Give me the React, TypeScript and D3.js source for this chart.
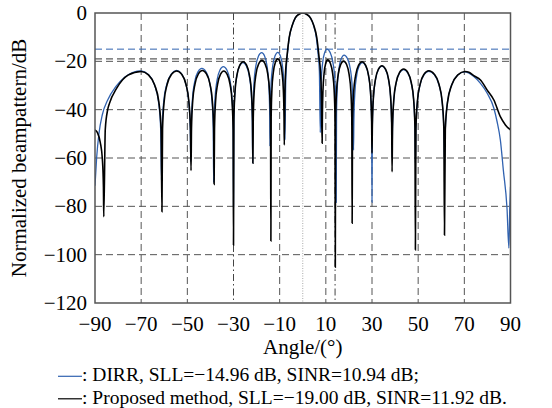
import React from 'react'
import * as d3 from 'd3'

// beampattern: [angle (deg), level (dB)]
const dirrPoints: [number, number][] = [
    [-90, -71.5], [-89.3, -60], [-88.3, -50], [-86.8, -42], [-84.5, -36], [-81, -30.5], [-77, -26.5], [-73.5, -24.6], [-70, -24.0],
    [-66.92, -25.4], [-64.28, -29.6], [-62.52, -36.6], [-61.55, -48.0], [-61.2, -69.1],
    [-60.94, -47.8], [-60.21, -36.4], [-58.89, -29.4], [-56.91, -25.2], [-54.6, -23.8], [-52.47, -25.2], [-50.64, -29.4], [-49.42, -36.4], [-48.74, -47.8], [-48.5, -61.5],
    [-48.31, -46.9], [-47.78, -35.5], [-46.82, -28.5], [-45.38, -24.3], [-43.7, -22.9], [-41.92, -24.3], [-40.39, -28.5], [-39.37, -35.5], [-38.8, -46.9], [-38.6, -70.0],
    [-38.43, -46.2], [-37.97, -34.8], [-37.13, -27.8], [-35.87, -23.6], [-34.4, -22.2], [-32.86, -23.6], [-31.54, -27.8], [-30.66, -34.8], [-30.18, -46.2], [-30.0, -80.1],
    [-29.84, -44.5], [-29.39, -33.1], [-28.57, -26.1], [-27.34, -21.9], [-25.9, -20.5], [-24.43, -21.9], [-23.17, -26.1], [-22.33, -33.1], [-21.87, -44.5], [-21.7, -62.0],
    [-21.54, -40.4], [-21.12, -29.0], [-20.34, -22.0], [-19.17, -17.8], [-17.8, -16.4], [-16.54, -17.8], [-15.46, -22.0], [-14.74, -29.0], [-14.34, -40.4], [-14.2, -55.0],
    [-14.06, -40.3], [-13.69, -28.9], [-13.01, -21.9], [-11.99, -17.7], [-10.8, -16.3], [-9.72, -17.7], [-8.79, -21.9], [-8.17, -28.9], [-7.82, -40.3], [-7.7, -52.5],
    [-7.4, -30], [-7.0, -21], [-6.7, -17.5], [-5.8, -10.0], [-4.4, -4.8], [-3.2, -2.0], [-1.5, -0.4], [0, 0], [1.5, -0.4], [3.3, -2.0], [4.6, -4.8], [5.9, -10.3], [6.7, -17.5], [7.2, -24], [7.6, -49.5],
    [7.72, -39.0], [8.04, -27.6], [8.62, -20.6], [9.49, -16.4], [10.5, -14.96], [11.9, -16.4], [13.1, -20.6], [13.9, -27.6], [14.34, -39.0], [14.5, -78.3],
    [14.64, -41.4], [15.01, -30.0], [15.69, -23.0], [16.71, -18.8], [17.9, -17.4], [19.34, -18.8], [20.57, -23.0], [21.39, -30.0], [21.84, -41.4], [22.0, -56.7],
    [22.15, -44.5], [22.57, -33.1], [23.33, -26.1], [24.47, -21.9], [25.8, -20.5], [27.27, -21.9], [28.53, -26.1], [29.37, -33.1], [29.83, -44.5], [30.0, -78.3],
    [30.17, -46.0], [30.65, -34.6], [31.51, -27.6], [32.8, -23.4], [34.3, -22.0], [35.84, -23.4], [37.16, -27.6], [38.04, -34.6], [38.52, -46.0], [38.7, -60.0],
    [38.9, -47.4], [39.45, -36.0], [40.45, -29.0], [41.95, -24.8], [43.7, -23.4], [45.49, -24.8], [47.02, -29.0], [48.04, -36.0], [48.6, -47.4], [48.8, -62.0],
    [49.03, -48.1], [49.67, -36.7], [50.83, -29.7], [52.57, -25.5], [54.6, -24.1], [56.98, -25.5], [59.02, -29.7], [60.38, -36.7], [61.13, -48.1], [61.4, -62.0],
    [61.74, -48.4], [62.69, -37.0], [64.41, -30.0], [66.99, -25.8], [70.0, -24.4], [72, -24.9], [74.1, -26.3], [77, -29.1], [79.9, -33.2], [82.8, -39.4],
    [84.2, -45], [85.6, -52.5], [86.9, -65], [88.5, -81], [89.3, -97.3], [89.7, -80], [90, -71.9],
]

const proposedPoints: [number, number][] = [
    [-90, -48.4], [-89.0, -49.4], [-87.7, -53.6], [-86.8, -60.6], [-86.35, -72], [-86.2, -84.3],
    [-85.55, -48.2], [-84.5, -40], [-83.77, -37.5], [-80.53, -31], [-75.67, -25.7], [-70, -24.2],
    [-66.85, -25.6], [-64.15, -29.8], [-62.35, -36.8], [-61.36, -48.2], [-61.0, -82.2],
    [-60.74, -48.0], [-60.04, -36.6], [-58.76, -29.6], [-56.84, -25.4], [-54.6, -24.0], [-52.43, -25.4], [-50.57, -29.6], [-49.33, -36.6], [-48.65, -48.0], [-48.4, -65.2],
    [-48.2, -47.8], [-47.67, -36.4], [-46.69, -29.4], [-45.22, -25.2], [-43.5, -23.8], [-41.72, -25.2], [-40.19, -29.4], [-39.17, -36.4], [-38.6, -47.8], [-38.4, -70.9],
    [-38.23, -48.0], [-37.77, -36.6], [-36.93, -29.6], [-35.67, -25.4], [-34.2, -24.0], [-32.73, -25.4], [-31.47, -29.6], [-30.63, -36.6], [-30.17, -48.0], [-30.0, -96.0],
    [-29.83, -44.2], [-29.37, -32.8], [-28.53, -25.8], [-27.27, -21.6], [-25.8, -20.2], [-24.33, -21.6], [-23.07, -25.8], [-22.23, -32.8], [-21.77, -44.2], [-21.6, -62.2],
    [-21.44, -43.6], [-21.02, -32.2], [-20.24, -25.2], [-19.07, -21.0], [-17.7, -19.6], [-16.33, -21.0], [-15.17, -25.2], [-14.39, -32.2], [-13.96, -43.6], [-13.8, -94.3],
    [-13.68, -43.0], [-13.35, -31.6], [-12.75, -24.6], [-11.85, -20.4], [-10.8, -19.0], [-9.82, -20.4], [-8.98, -24.6], [-8.42, -31.6], [-8.11, -43.0], [-8.0, -54.6],
    [-7.7, -32], [-7.35, -23], [-6.9, -18.6], [-5.9, -10.3], [-4.5, -5.0], [-3.3, -2.1], [-1.6, -0.5], [0, 0], [1.6, -0.5], [3.4, -2.1], [4.7, -5.0], [6.1, -10.3], [7.1, -18.6], [7.65, -24], [8.05, -33], [8.4, -53.9],
    [8.5, -43.4], [8.76, -32.0], [9.24, -25.0], [9.96, -20.8], [10.8, -19.4], [11.96, -20.8], [12.95, -25.0], [13.61, -32.0], [13.97, -43.4], [14.1, -105.2],
    [14.24, -43.9], [14.64, -32.5], [15.36, -25.5], [16.44, -21.3], [17.7, -19.9], [19.0, -21.3], [20.1, -25.5], [20.85, -32.5], [21.25, -43.9], [21.4, -87.0],
    [21.57, -44.2], [22.05, -32.8], [22.91, -25.8], [24.2, -21.6], [25.7, -20.2], [27.2, -21.6], [28.5, -25.8], [29.36, -32.8], [29.83, -44.2], [30.0, -58.0],
    [30.17, -45.8], [30.65, -34.4], [31.51, -27.4], [32.8, -23.2], [34.3, -21.8], [35.84, -23.2], [37.16, -27.4], [38.04, -34.4], [38.52, -45.8], [38.7, -65.7],
    [38.9, -47.2], [39.45, -35.8], [40.45, -28.8], [41.95, -24.6], [43.7, -23.2], [45.49, -24.6], [47.02, -28.8], [48.04, -35.8], [48.6, -47.2], [48.8, -98.0],
    [49.03, -47.9], [49.67, -36.5], [50.83, -29.5], [52.57, -25.3], [54.6, -23.9], [56.98, -25.3], [59.02, -29.5], [60.38, -36.5], [61.13, -47.9], [61.4, -91.9],
    [61.76, -48.2], [62.74, -36.8], [64.52, -29.8], [67.19, -25.6], [70.3, -24.2], [72.0, -24.5], [74.1, -25.9], [77, -27.7], [79.9, -31.9], [82.8, -36],
    [85.6, -42.9], [87.8, -46.3], [90, -48.4],
]

const xTicks = [-90, -70, -50, -30, -10, 10, 30, 50, 70, 90]
const yTicks = [0, -20, -40, -60, -80, -100, -120]
const sllLevels = [-14.96, -19.0]
const sllColors = ['#3062b0', '#333']
const interferenceAngles = [-30, 14]
const legendLabels = [
    ': DIRR, SLL=\u221214.96 dB, SINR=10.94 dB;',
    ': Proposed method, SLL=\u221219.00 dB, SINR=11.92 dB.',
]
const legendColors = ['#3062b0', '#000']

const FONT = "'Liberation Serif', 'Times New Roman', serif"
const textStyle = { fontFamily: FONT, fontSize: '21px' }
const legendStyle = { fontFamily: FONT, fontSize: '19.5px' }

export default function App() {
    const width = 552
    const height = 408
    const margin = { top: 13, right: 41.5, bottom: 105, left: 95 }
    const innerWidth = width - margin.left - margin.right
    const innerHeight = height - margin.top - margin.bottom

    const xScale = d3.scaleLinear().domain([-90, 90]).range([0, innerWidth])
    const yScale = d3.scaleLinear().domain([-120, 0]).range([innerHeight, 0])
    const fmt = d3.format('')

    const line = d3.line<[number, number]>()
        .x(d => xScale(d[0]))
        .y(d => yScale(d[1]))
        .curve(d3.curveMonotoneX)

    return (
        <svg width={width} height={height}
            style={{ position: 'absolute', left: 0, top: 0, background: '#fff' }}>
            <defs>
                <clipPath id="plot-clip">
                    <rect width={innerWidth} height={innerHeight} />
                </clipPath>
            </defs>
            <g transform={`translate(${margin.left},${margin.top})`}>
                {/* dashed grid */}
                {xTicks.filter(t => t !== -30 && Math.abs(t) !== 90).map(t => (
                    <line key={'gx' + t} x1={xScale(t)} x2={xScale(t)} y1={0} y2={innerHeight}
                        stroke="#555" strokeWidth={1} strokeDasharray="7,4" />
                ))}
                {yTicks.filter(t => t !== 0 && t !== -120).map(t => (
                    <line key={'gy' + t} x1={0} x2={innerWidth} y1={yScale(t)} y2={yScale(t)}
                        stroke="#555" strokeWidth={1} strokeDasharray="7,4" />
                ))}
                {/* interference directions and look direction */}
                {interferenceAngles.map(a => (
                    <line key={'ia' + a} x1={xScale(a)} x2={xScale(a)} y1={0} y2={innerHeight}
                        stroke="#444" strokeWidth={1} strokeDasharray="7,3,1.5,3" />
                ))}
                <line x1={xScale(0)} x2={xScale(0)} y1={0} y2={innerHeight}
                    stroke="#aaa" strokeWidth={1} strokeDasharray="1,1.5" />
                {/* SLL reference lines */}
                {sllLevels.map((v, i) => (
                    <line key={'sll' + i} x1={0} x2={innerWidth} y1={yScale(v)} y2={yScale(v)}
                        stroke={sllColors[i]} strokeWidth={1} strokeDasharray="7,4" />
                ))}
                <g clipPath="url(#plot-clip)">
                    <path d={line(dirrPoints) ?? ''} fill="none" stroke={legendColors[0]} strokeWidth={1.3} />
                    <path d={line(proposedPoints) ?? ''} fill="none" stroke={legendColors[1]} strokeWidth={1.6} />
                </g>
                <rect width={innerWidth} height={innerHeight} fill="none" stroke="#555" strokeWidth={1.5} />
                {/* tick labels */}
                {xTicks.map(t => (
                    <text key={'tx' + t} x={xScale(t)} y={innerHeight + 28} textAnchor="middle" style={textStyle}>
                        {fmt(t)}
                    </text>
                ))}
                {yTicks.map(t => (
                    <text key={'ty' + t} x={-8} y={yScale(t) + 7} textAnchor="end" style={textStyle}>
                        {fmt(t)}
                    </text>
                ))}
                <text x={innerWidth / 2} y={innerHeight + 51} textAnchor="middle" style={textStyle}>
                    Angle/(°)
                </text>
                <text transform={`translate(-69,${innerHeight / 2}) rotate(-90)`} textAnchor="middle" style={textStyle}>
                    Normalized beampattern/dB
                </text>
            </g>
            {legendLabels.map((label, i) => {
                const base = 381.3 + i * 22.5
                return (
                    <g key={'lg' + i}>
                        <line x1={58} x2={82} y1={base - 5} y2={base - 5} stroke={legendColors[i]} strokeWidth={1.2} />
                        <text x={82} y={base} style={legendStyle}>{label}</text>
                    </g>
                )
            })}
        </svg>
    )
}
